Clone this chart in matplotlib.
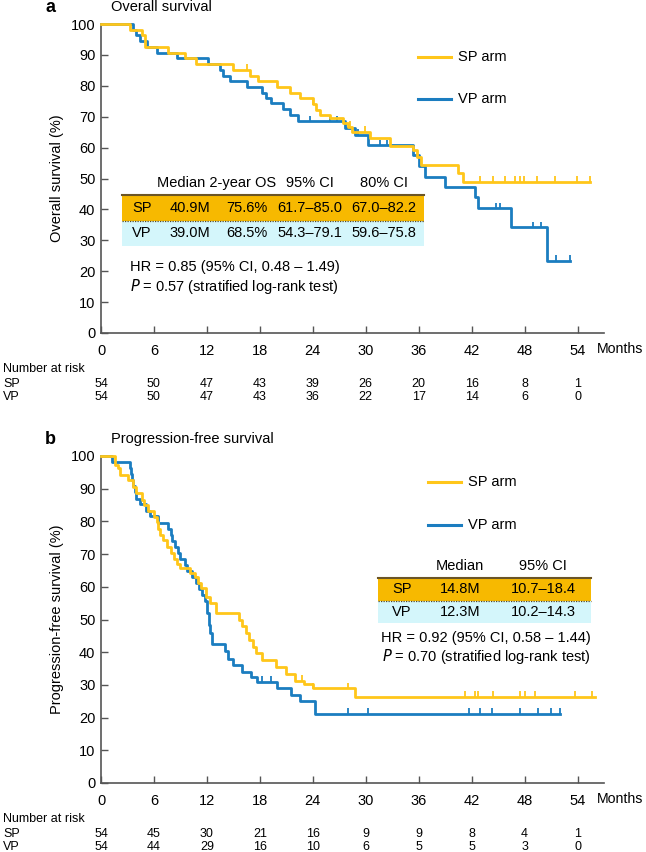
import numpy as np
import matplotlib
matplotlib.use('Agg')
import matplotlib.pyplot as plt
from matplotlib.patches import Rectangle
from matplotlib.lines import Line2D
from matplotlib.transforms import blended_transform_factory

plt.rcParams['font.family'] = ['Liberation Sans', 'DejaVu Sans']

# ---- data ----
month_ticks = [0, 6, 12, 18, 24, 30, 36, 42, 48, 54]

# overall survival, SP arm (step times in months, survival %)
os_sp_t = [0, 3.3, 4.6, 5.0, 7.6, 9.5, 10.8, 15.0, 16.9, 17.8, 19.9, 21.4, 22.5, 24.0,
           24.4, 24.8, 25.9, 27.4, 28.0, 28.4, 30.5, 32.7, 35.3, 35.8, 36.3, 40.4, 41.0, 55.4]
os_sp_s = [100, 98.1, 96.3, 92.6, 90.7, 89.0, 87.0, 85.2, 83.3, 81.5, 79.6, 77.8, 75.9, 74.0,
           72.2, 70.6, 69.5, 68.0, 66.8, 65.2, 63.0, 60.5, 59.2, 57.0, 54.4, 51.8, 48.9, 48.9]
os_sp_cens = [16.5, 24.0, 28.2, 29.9, 42.9, 44.4, 45.8, 46.9, 47.5, 47.9, 49.4, 51.4, 53.9, 55.4]

# overall survival, VP arm
os_vp_t = [0, 3.6, 4.0, 4.4, 5.2, 6.3, 8.6, 12.1, 13.5, 13.8, 14.6, 16.5, 18.2, 18.7, 19.3,
           20.6, 21.4, 22.3, 27.6, 28.8, 30.2, 35.3, 36.0, 36.7, 39.0, 42.4, 42.7, 46.5, 50.5, 53.1]
os_vp_s = [100, 98.1, 96.3, 94.4, 92.6, 90.7, 88.9, 87.0, 85.2, 83.3, 81.5, 79.6, 77.8, 75.9, 74.4,
           72.6, 70.6, 68.5, 66.2, 64.1, 60.8, 57.6, 54.0, 50.5, 47.1, 43.9, 40.3, 34.3, 23.4, 23.4]
os_vp_cens = [23.7, 25.9, 26.7, 29.1, 31.6, 32.4, 44.8, 45.2, 48.9, 49.9, 51.6, 53.1]

# progression-free survival, SP arm
pfs_sp_t = [0, 1.6, 1.9, 2.2, 3.1, 3.6, 4.0, 4.6, 4.9, 5.3, 6.0, 6.3, 6.5, 6.7, 7.0, 7.5, 7.9,
            8.3, 8.6, 9.0, 10.1, 10.6, 11.0, 11.3, 11.9, 12.4, 13.0, 15.6, 16.0, 16.4, 16.8,
            17.2, 17.6, 18.2, 19.8, 21.0, 22.0, 23.0, 24.0, 28.8, 56.0]
pfs_sp_s = [100, 97.2, 96.2, 94.2, 92.7, 90.6, 88.6, 86.5, 85.0, 83.3, 81.4, 79.7, 77.8, 75.8,
            74.3, 72.2, 70.4, 68.5, 67.0, 65.6, 64.1, 63.1, 61.1, 59.5, 57.0, 54.9, 52.0, 50.0,
            48.0, 45.9, 43.8, 41.7, 39.7, 37.6, 35.4, 33.2, 31.2, 30.4, 29.0, 26.4, 26.4]
pfs_sp_cens = [22.8, 24.0, 28.0, 41.2, 42.4, 42.7, 44.4, 47.5, 48.0, 49.2, 53.7, 55.6]

# progression-free survival, VP arm
pfs_vp_t = [0, 1.2, 3.3, 3.4, 3.5, 3.6, 3.8, 4.0, 4.4, 5.1, 5.5, 6.5, 7.6, 7.9, 8.1, 8.4, 8.7,
            9.0, 9.5, 9.8, 10.3, 10.8, 11.1, 11.4, 11.8, 12.0, 12.2, 12.4, 12.6, 14.0, 14.4,
            15.0, 16.0, 17.0, 17.7, 20.0, 21.5, 22.6, 24.2, 52.0]
pfs_vp_s = [100, 98.1, 96.3, 94.4, 92.6, 90.7, 88.9, 87.0, 85.2, 83.3, 81.5, 79.6, 77.8, 75.9,
            74.0, 72.2, 70.3, 68.5, 66.7, 64.8, 63.0, 61.1, 59.3, 57.4, 55.6, 52.0, 48.2, 46.0,
            42.5, 40.3, 38.0, 36.0, 34.0, 32.5, 31.0, 29.0, 27.0, 25.0, 21.2, 21.2]
pfs_vp_cens = [18.3, 19.3, 28.0, 30.2, 41.7, 42.9, 44.3, 47.5, 49.5, 51.0, 52.0]

# number at risk
os_risk_sp = [54, 50, 47, 43, 39, 26, 20, 16, 8, 1]
os_risk_vp = [54, 50, 47, 43, 36, 22, 17, 14, 6, 0]
pfs_risk_sp = [54, 45, 30, 21, 16, 9, 9, 8, 4, 1]
pfs_risk_vp = [54, 44, 29, 16, 10, 6, 5, 5, 3, 0]

# summary tables
os_header = ['Median', '2-year OS', '95% CI', '80% CI']
os_rows = [['SP', '40.9M', '75.6%', '61.7\u201385.0', '67.0\u201382.2'],
           ['VP', '39.0M', '68.5%', '54.3\u201379.1', '59.6\u201375.8']]
pfs_header = ['Median', '95% CI']
pfs_rows = [['SP', '14.8M', '10.7\u201318.4'],
            ['VP', '12.3M', '10.2\u201314.3']]

# ---- style ----
YELLOW = '#FFC61A'
BLUE = '#1B7DC0'
GOLD = '#F7B900'
CYAN = '#D4F6FB'
AXC = '#555555'
W, H = 646, 852

fig = plt.figure(figsize=(W / 100, H / 100), dpi=100)


def fx(px):
    return px / W


def fy(py):
    return 1 - py / H


def km(ax, t, s, cens, color):
    ax.step(t, s, where='post', color=color, lw=2.0, clip_on=False, zorder=3)
    idx = np.searchsorted(t, cens, side='right') - 1
    ax.plot(cens, np.array(s)[idx] + 0.8, ls='none', marker='|', ms=4.5, mew=1.3,
            color=color, clip_on=False, zorder=3)


def panel(top, bottom, letter, title, ylabel, curves, risk_sp, risk_vp):
    ax = fig.add_axes([fx(101), fy(bottom), fx(604) - fx(101), fy(top) - fy(bottom)])
    for t, s, c, col in curves:
        km(ax, t, s, c, col)
    ax.set_xlim(0, 57)
    ax.set_ylim(0, 100)
    ax.set_xticks(month_ticks)
    ax.set_yticks(range(0, 101, 10))
    ax.tick_params(direction='in', length=5, width=1, color=AXC, labelsize=10.5, pad=8)
    ax.tick_params(axis='y', pad=4)
    for sp in ['top', 'right']:
        ax.spines[sp].set_visible(False)
    for sp in ['left', 'bottom']:
        ax.spines[sp].set_color(AXC)
        ax.spines[sp].set_linewidth(1.2)
    fig.text(fx(597), fy(bottom + 16), 'Months', fontsize=10.2, ha='left', va='center')
    fig.text(fx(45), fy(top - 17), letter, fontsize=13, fontweight='bold', ha='left', va='center')
    fig.text(fx(111), fy(top - 17), title, fontsize=10.5, ha='left', va='center')
    fig.text(fx(57), fy((top + bottom) / 2), ylabel, fontsize=10.5, rotation=90,
             ha='center', va='center')
    # number at risk
    tr = blended_transform_factory(ax.transData, fig.transFigure)
    fig.text(fx(3), fy(bottom + 36), 'Number at risk', fontsize=9, va='center')
    for lab, vals, dy in [('SP', risk_sp, 51), ('VP', risk_vp, 64)]:
        fig.text(fx(3), fy(bottom + dy), lab, fontsize=9, va='center')
        for m, v in zip(month_ticks, vals):
            ax.text(m, fy(bottom + dy), str(v), transform=tr, fontsize=9,
                    ha='center', va='center')
    return ax


def legend(x0, y_sp, y_vp):
    for yy, col, lab in [(y_sp, YELLOW, 'SP arm'), (y_vp, BLUE, 'VP arm')]:
        fig.add_artist(Line2D([fx(x0), fx(x0 + 33)], [fy(yy), fy(yy)], color=col, lw=2.2))
        fig.text(fx(x0 + 40), fy(yy), lab, fontsize=10.5, va='center')


def table(x0, x1, y0, rh, row_cols, rows):
    for i, col in enumerate([GOLD, CYAN]):
        fig.add_artist(Rectangle((fx(x0), fy(y0 + rh * (i + 1))), fx(x1) - fx(x0), rh / H,
                                 transform=fig.transFigure, facecolor=col, edgecolor='none'))
    fig.add_artist(Line2D([fx(x0), fx(x1)], [fy(y0), fy(y0)], color='#6B5526', lw=1.5))
    fig.add_artist(Line2D([fx(x0), fx(x1)], [fy(y0 + rh), fy(y0 + rh)], color='#5A4A20',
                          lw=0.9, ls=(0, (1, 1))))
    for i, r in enumerate(rows):
        for xc, txt in zip(row_cols, r):
            fig.text(fx(xc), fy(y0 + rh * (i + 0.5)), txt, fontsize=10.5,
                     ha='center', va='center')


# ---- panel a: overall survival ----
panel(24, 333, 'a', 'Overall survival', 'Overall survival (%)',
      [(os_vp_t, os_vp_s, os_vp_cens, BLUE), (os_sp_t, os_sp_s, os_sp_cens, YELLOW)],
      os_risk_sp, os_risk_vp)
legend(418, 57, 99)
os_cols = [142, 190, 247, 310, 384]
fig.text(fx(157), fy(183), os_header[0] + ' ' + os_header[1], fontsize=10.5, ha='left', va='center')
for xc, h in zip(os_cols[3:], os_header[2:]):
    fig.text(fx(xc), fy(183), h, fontsize=10.5, ha='center', va='center')
table(122, 424, 195, 25.5, os_cols, os_rows)
fig.text(fx(130), fy(267), 'HR = 0.85 (95% CI, 0.48 \u2013 1.49)', fontsize=10.5, va='center')
fig.text(fx(130), fy(286), '$P$ = 0.57 (stratified log-rank test)', fontsize=10.5, va='center')

# ---- panel b: progression-free survival ----
panel(456, 783, 'b', 'Progression-free survival', 'Progression-free survival (%)',
      [(pfs_vp_t, pfs_vp_s, pfs_vp_cens, BLUE), (pfs_sp_t, pfs_sp_s, pfs_sp_cens, YELLOW)],
      pfs_risk_sp, pfs_risk_vp)
legend(428, 482, 525)
pfs_cols = [402, 460, 543]
for xc, h in zip(pfs_cols[1:], pfs_header):
    fig.text(fx(xc), fy(566), h, fontsize=10.5, ha='center', va='center')
table(378, 591, 578, 22.5, pfs_cols, pfs_rows)
fig.text(fx(591), fy(638), 'HR = 0.92 (95% CI, 0.58 \u2013 1.44)', fontsize=10.5,
         ha='right', va='center')
fig.text(fx(591), fy(656), '$P$ = 0.70 (stratified log-rank test)', fontsize=10.5,
         ha='right', va='center')

fig.savefig('out.png', dpi=100)
